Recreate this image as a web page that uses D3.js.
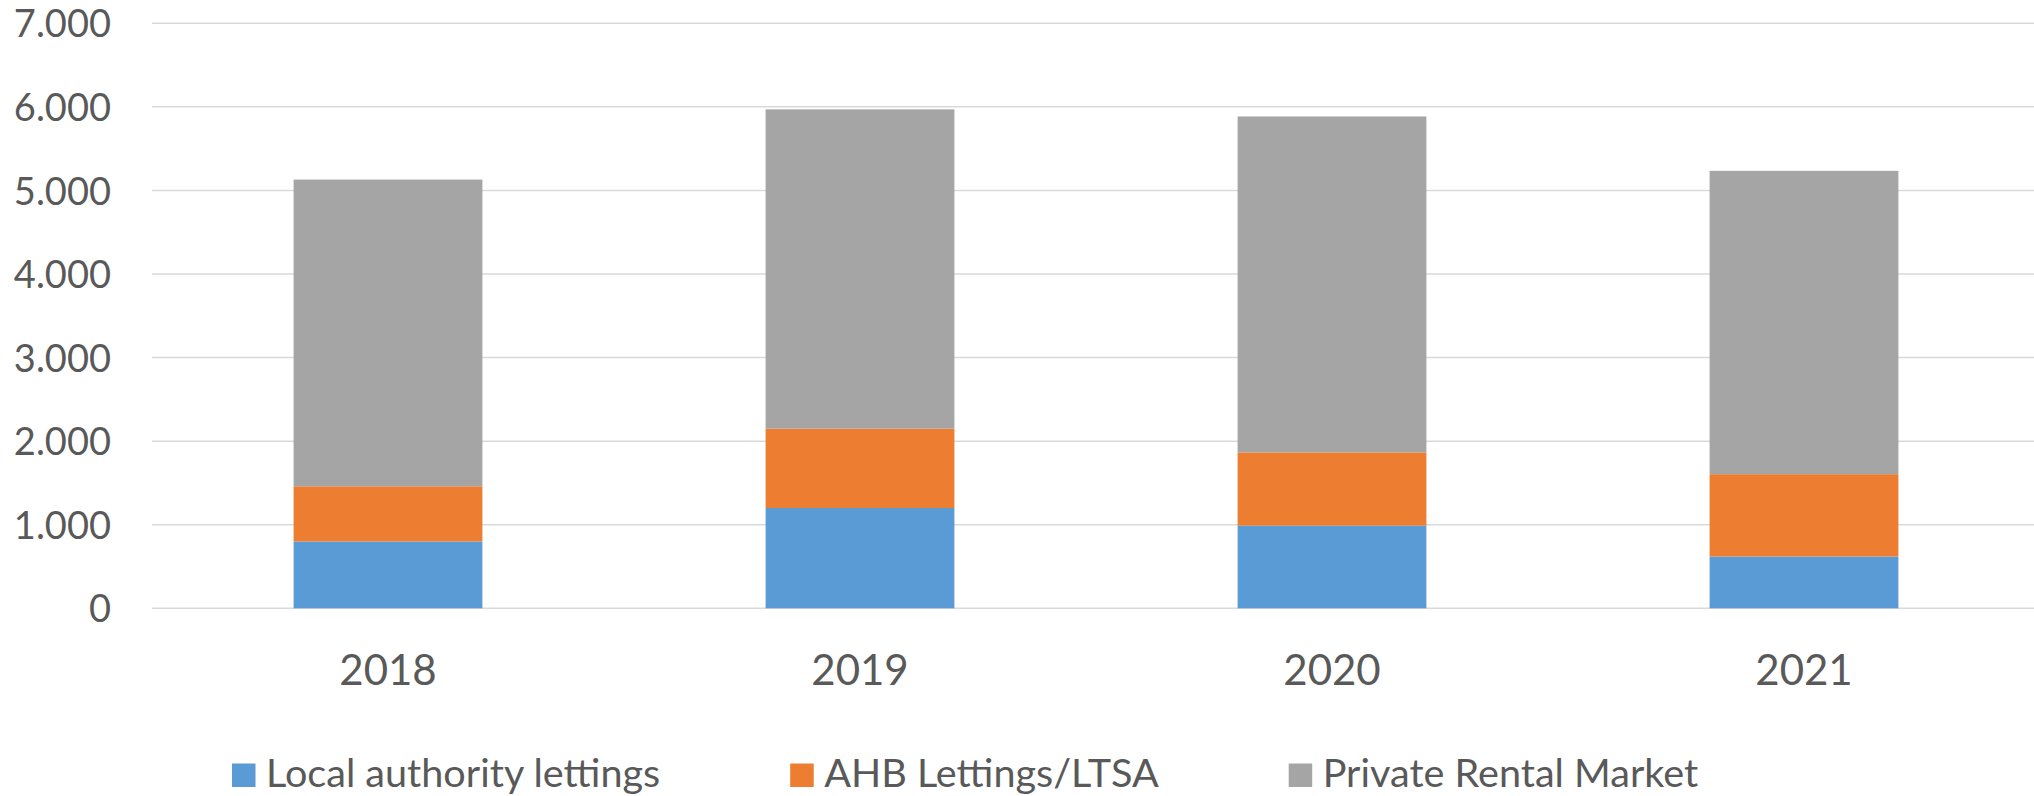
<!DOCTYPE html>
<html lang="en">
<head>
    <meta charset="UTF-8">
    <title>Lettings</title>
    <style type="text/css">
        body { margin: 0; background: #ffffff; }
        .tick text { fill: #595959; font-family: Lato, "Open Sans", sans-serif; }
        .legend text { fill: #595959; font-family: Lato, "Open Sans", sans-serif; font-size: 39.6px; }
    </style>
</head>
<script src='https://d3js.org/d3.v7.min.js'></script>
<body>
<svg></svg>

<script>
// Data
var years = ["2018", "2019", "2020", "2021"];
var seriesNames = ["Local authority lettings", "AHB Lettings/LTSA", "Private Rental Market"];
var localAuthority = [800, 1200, 990, 620];
var ahbLettings = [660, 950, 875, 985];
var privateRental = [3670, 3820, 4020, 3630];
var yTicks = [0, 1000, 2000, 3000, 4000, 5000, 6000, 7000];
var colors = ["#5B9BD5", "#ED7D31", "#A5A5A5"];

// Canvas
var svgWidth = 2034;
var svgHeight = 796;
var plotLeft = 152;
var plotTop = 23.3;
var plotBottom = 608.3;

var svg = d3.select("svg")
            .attr("width", svgWidth)
            .attr("height", svgHeight);

// build rows for the stack
var rows = years.map(function(y, i) {
    return {year: y, a: localAuthority[i], b: ahbLettings[i], c: privateRental[i]};
});
var stacked = d3.stack().keys(["a", "b", "c"])(rows);

var xs = d3.scaleBand().domain(years).range([plotLeft, plotLeft + 4 * 472]).paddingInner(0.6).paddingOuter(0.3);
var ys = d3.scaleLinear().domain([0, 7000]).range([plotBottom, plotTop]);

// gridlines
svg.append("g")
    .selectAll("line")
    .data(yTicks)
    .enter()
    .append("line")
        .attr("x1", plotLeft)
        .attr("x2", svgWidth)
        .attr("y1", function(d) { return ys(d); })
        .attr("y2", function(d) { return ys(d); })
        .style("stroke", "#d9d9d9")
        .style("stroke-width", "1.5");

// y axis labels
var yAxis = svg.append("g")
    .attr("transform", "translate(111,0)")
    .call(d3.axisLeft(ys).tickValues(yTicks).tickSize(0).tickPadding(0)
        .tickFormat(function(d) { return d3.format(",")(d).replace(/,/g, "."); }));
yAxis.select(".domain").remove();
yAxis.selectAll("text").style("font-size", "38px").attr("dy", "0.36em");

// bars
svg.append("g")
    .selectAll("g")
    .data(stacked)
    .enter()
    .append("g")
        .attr("fill", function(d, i) { return colors[i]; })
    .selectAll("rect")
    .data(function(d) { return d; })
    .enter()
    .append("rect")
        .attr("x", function(d) { return xs(d.data.year); })
        .attr("y", function(d) { return ys(d[1]); })
        .attr("width", xs.bandwidth())
        .attr("height", function(d) { return ys(d[0]) - ys(d[1]); });

// x axis labels
var xAxis = svg.append("g")
    .attr("transform", "translate(0," + plotBottom + ")")
    .call(d3.axisBottom(xs).tickSize(0).tickPadding(0));
xAxis.select(".domain").remove();
xAxis.selectAll("text").style("font-size", "42px").attr("dy", null).attr("y", 77);

// legend
var legend = svg.append("g").attr("class", "legend");
var lx = 232;
seriesNames.forEach(function(name, i) {
    var item = legend.append("g").attr("transform", "translate(" + lx + ",0)");
    item.append("rect")
        .attr("x", 0)
        .attr("y", 763.5)
        .attr("width", 23.5)
        .attr("height", 23.5)
        .attr("fill", colors[i]);
    var t = item.append("text")
        .attr("x", 34)
        .attr("y", 787)
        .text(name);
    lx += 34 + t.node().getComputedTextLength() + 130;
});
</script>

</body>
</html>
